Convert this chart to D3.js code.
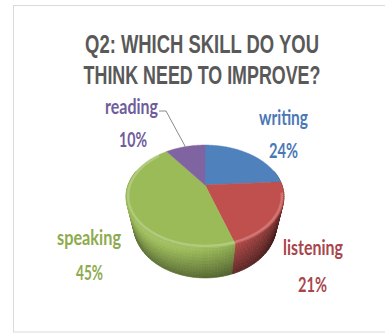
<!DOCTYPE html>
<html><head><meta charset="utf-8">
<script src="https://cdn.jsdelivr.net/npm/d3@7"></script>
<style>html,body{margin:0;padding:0;background:#fff;} svg{display:block}</style>
</head><body>
<svg id="chart" width="385" height="334"></svg>
<script>
// Survey answers: share of students per skill (percent)
const skills = ["writing", "listening", "speaking", "reading"];
const shares = [24, 21, 45, 10];
const sliceColors = ["#4F81BD", "#C0504D", "#9BBB59", "#8064A2"];
const labelColors = ["#4a78b6", "#a8464b", "#8dab4e", "#6f5c9c"];
const titleLines = ["Q2: WHICH SKILL DO YOU", "THINK NEED TO IMPROVE?"];

// label placement: centre x, baseline y and rendered width of name / percent lines
const labelPos = {
  writing:   {nx: 283.5, ny: 125, nw: 49, px: 283.5, py: 158, pw: 29},
  listening: {nx: 313,   ny: 255, nw: 60, px: 312.5, py: 292, pw: 29},
  speaking:  {nx: 89,    ny: 245, nw: 64, px: 89.5,  py: 280, pw: 27},
  reading:   {nx: 131.5, ny: 114, nw: 53, px: 133,   py: 147, pw: 28}
};

const svg = d3.select("#chart");

// card frame
svg.append("rect")
  .attr("x", 13.5).attr("y", 5.5).attr("width", 390).attr("height", 326.5)
  .attr("fill", "#fff").attr("stroke", "#dadada");

// text condensed horizontally to a given width, centred on x
function fittedText(parent, str, x, y, width, font) {
  const g = parent.append("g").attr("transform", `translate(${x},${y})`);
  const t = g.append("text")
    .attr("text-anchor", "middle")
    .attr("font-family", font.family).attr("font-weight", "bold")
    .attr("font-size", font.size).attr("fill", font.color)
    .text(str);
  const w = t.node().getComputedTextLength();
  t.attr("transform", `scale(${width / w},1)`);
  return g;
}

// title
const titleFont = {family: "'Liberation Sans',Arial,sans-serif", size: 26, color: "#595959"};
titleLines.forEach((line, i) =>
  fittedText(svg, line, 202, 53 + i * 31, i ? 237 : 234, titleFont));

// perspective camera for the tilted pie
const cam = {cx: 205, cy: 185, f: 266, d: 3.457, tilt: 0.688, h: 0.55};
const sa = Math.sin(cam.tilt), ca = Math.cos(cam.tilt);
function project(phi, r, y) {
  const X = r * Math.sin(phi), Z = r * Math.cos(phi);
  const yc = y * ca + Z * sa, zc = cam.d + Z * ca - y * sa;
  return [cam.cx + cam.f * X / zc, cam.cy - cam.f * yc / zc];
}
function shade(base, k) {
  const c = d3.rgb(base);
  if (k <= 1) return d3.rgb(c.r * k, c.g * k, c.b * k).formatHex();
  return d3.interpolateRgb(base, "#ffffff")(k - 1);
}

const arcs = d3.pie().sort(null).value(d => d)(shares);
const step = Math.PI / 180;

// side wall: small curved quads, lit from the front-left
const light = [-0.55, -0.83];
const walls = [];
const bands = 10;
arcs.forEach((a, i) => {
  for (let p = a.startAngle; p < a.endAngle - 1e-9; p += 2 * step) {
    const p1 = Math.min(p + 2 * step, a.endAngle);
    const mid = (p + p1) / 2;
    if (Math.cos(mid) > 0.3) continue;
    const lit = Math.max(0, Math.sin(mid) * light[0] + Math.cos(mid) * light[1]);
    for (let b = 0; b < bands; b++) {
      const t0 = b / bands, t1 = (b + 1) / bands;
      const pts = [project(p, 1, -cam.h * t0), project(p1, 1, -cam.h * t0),
                   project(p1, 1, -cam.h * t1), project(p, 1, -cam.h * t1)];
      const tm = (t0 + t1) / 2;
      const k = (0.55 + 0.45 * lit) * (1.1 - 0.5 * tm);
      walls.push({pts, depth: Math.cos(mid), color: shade(sliceColors[i], k)});
    }
  }
});
walls.sort((a, b) => b.depth - a.depth);

const pieG = svg.append("g");
pieG.selectAll("path.wall").data(walls).join("path")
  .attr("class", "wall")
  .attr("d", d => "M" + d.pts.map(p => p.join(",")).join("L") + "Z")
  .attr("fill", d => d.color).attr("stroke", d => d.color).attr("stroke-width", 0.6);

// top face slices
function topPath(a, r) {
  const pts = [project(0, 0, 0)];
  for (let p = a.startAngle; p < a.endAngle; p += step) pts.push(project(p, r, 0));
  pts.push(project(a.endAngle, r, 0));
  return "M" + pts.map(p => p.join(",")).join("L") + "Z";
}
pieG.selectAll("path.top").data(arcs).join("path")
  .attr("class", "top")
  .attr("d", a => topPath(a, 1))
  .attr("fill", (a, i) => sliceColors[i])
  .attr("stroke", (a, i) => sliceColors[i]).attr("stroke-width", 0.5);

// soft bevel highlight along the front rim
const rim = [];
for (let p = Math.PI * 0.55; p <= Math.PI * 1.75; p += step) rim.push(project(p, 0.975, 0));
pieG.append("path")
  .attr("d", "M" + rim.map(p => p.join(",")).join("L"))
  .attr("fill", "none").attr("stroke", "#ffffff").attr("stroke-opacity", 0.22)
  .attr("stroke-width", 2.5);

// leader line for the small slice
const readArc = arcs[3];
const anchor = project((readArc.startAngle + readArc.endAngle) / 2, 0.96, 0);
svg.append("polyline")
  .attr("points", [[159, 111], [166, 111], anchor].map(p => p.join(",")).join(" "))
  .attr("fill", "none").attr("stroke", "#8a8a8a").attr("stroke-width", 1);

// data labels
skills.forEach((s, i) => {
  const pos = labelPos[s];
  const font = {family: "Lato,'Open Sans',sans-serif", size: 21, color: labelColors[i]};
  fittedText(svg, s, pos.nx, pos.ny, pos.nw, font);
  fittedText(svg, shares[i] + "%", pos.px, pos.py, pos.pw, font);
});
</script>
</body></html>
